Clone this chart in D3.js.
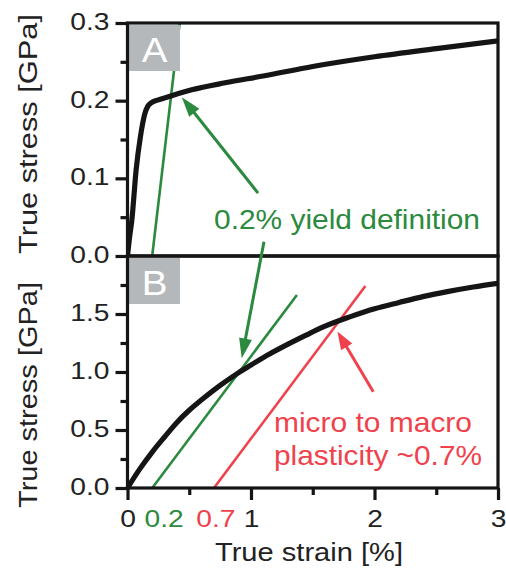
<!DOCTYPE html>
<html>
<head>
<meta charset="utf-8">
<script src="https://cdn.jsdelivr.net/npm/d3@7"></script>
<style>
  body { margin: 0; background: #fff; }
  text { font-family: "Liberation Sans", Arial, Helvetica, sans-serif; }
</style>
</head>
<body>
<svg id="chart" width="506" height="571"></svg>
<script>
// ---- data -------------------------------------------------------------
// Panel A: low-strength material, true stress-strain curve
const strainA = [0, 0.015, 0.035, 0.07, 0.105, 0.14, 0.165, 0.19, 0.25, 0.33, 0.52, 0.79, 1.11, 1.5, 2.0, 2.5, 3.0];
const stressA = [0, 0.022, 0.046, 0.111, 0.154, 0.183, 0.193, 0.197, 0.201, 0.205, 0.214, 0.223, 0.232, 0.244, 0.2565, 0.267, 0.277];

// Panel B: high-strength material, true stress-strain curve
const strainB = [0, 0.1, 0.2, 0.3, 0.4, 0.5, 0.6, 0.75, 0.9, 1.0, 1.15, 1.3, 1.45, 1.6, 1.8, 2.0, 2.2, 2.4, 2.6, 2.8, 3.0];
const stressB = [0, 0.165, 0.31, 0.44, 0.565, 0.67, 0.76, 0.884, 0.995, 1.06, 1.155, 1.24, 1.32, 1.395, 1.475, 1.545, 1.6, 1.652, 1.695, 1.733, 1.765];

// Offset (elastic) lines: start strain [%] and slope [GPa per %]
const yieldOffset = 0.2;      // 0.2 % yield definition
const macroOffset = 0.7;      // micro to macro plasticity
const slopeA = 1.35;
const slopeB = 1.42;

// Axis ticks
const xMajor = [0, 1, 2, 3];
const xMinor = [0.5, 1.5, 2.5];
const yMajorA = [0, 0.1, 0.2, 0.3];
const yMinorA = [0.05, 0.15, 0.25];
const yMajorB = [0, 0.5, 1.0, 1.5];
const yMinorB = [0.25, 0.75, 1.25, 1.75];
const offsetTickLabels = ["0.2", "0.7"];

// Annotation arrows (tail -> tip, in strain / stress units)
const arrowYieldA = { tail: [1.057, 0.081], tip: [0.44, 0.2045] };
const arrowYieldB = { tail: [1.105, 0.0184], tip: [0.925, 1.118] }; // tail in panel A units
const arrowMacro  = { tail: [1.99, 0.83], tip: [1.70, 1.35] };

// ---- layout ------------------------------------------------------------
const GREEN = "#2b8a3e", RED = "#f0424c", INK = "#151515", BOX = "#b5b8bb";
const svg = d3.select("#chart");

const x  = d3.scaleLinear().domain([0, 3]).range([127.5, 498]);
const yA = d3.scaleLinear().domain([0, 0.3]).range([256, 23]);
const yB = d3.scaleLinear().domain([0, 2.0]).range([488, 256]);

// Stretch glyphs horizontally (the figure uses a wide sans face).
// The anchor is resolved by hand so the stretched run stays aligned.
function stretch(sel, k, target) {
  sel.each(function () {
    const w = this.getComputedTextLength();
    const L = target || w * k;
    const anchor = this.getAttribute("text-anchor") || getComputedStyle(this).textAnchor || "start";
    const x0 = +(this.getAttribute("x") || 0);
    const shift = anchor === "middle" ? -L / 2 : anchor === "end" ? -L : 0;
    this.setAttribute("x", x0 + shift);
    this.setAttribute("text-anchor", "start");
    this.setAttribute("textLength", L);
    this.setAttribute("lengthAdjust", "spacingAndGlyphs");
  });
}

const lineGen = (ys) => d3.line()
  .x(d => x(d[0])).y(d => ys(d[1]))
  .curve(d3.curveMonotoneX);

// ---- curves -------------------------------------------------------------
const plot = svg.append("g");

// clip lines to panel interiors
const defs = svg.append("defs");
defs.append("clipPath").attr("id", "clipA").append("rect")
  .attr("x", x(0)).attr("y", yA(0.3)).attr("width", x(3) - x(0)).attr("height", yA(0) - yA(0.3));
defs.append("clipPath").attr("id", "clipB").append("rect")
  .attr("x", x(0)).attr("y", yB(2)).attr("width", x(3) - x(0)).attr("height", yB(0) - yB(2));

const gA = plot.append("g").attr("clip-path", "url(#clipA)");
const gB = plot.append("g").attr("clip-path", "url(#clipB)");

// offset lines
gA.append("line")
  .attr("x1", x(yieldOffset)).attr("y1", yA(0))
  .attr("x2", x(yieldOffset + 0.3 / slopeA)).attr("y2", yA(0.3))
  .attr("stroke", GREEN).attr("stroke-width", 2.6);

const topG = 1.664, topR = 1.741;
gB.append("line")
  .attr("x1", x(yieldOffset)).attr("y1", yB(0))
  .attr("x2", x(yieldOffset + topG / slopeB)).attr("y2", yB(topG))
  .attr("stroke", GREEN).attr("stroke-width", 2.6);
gB.append("line")
  .attr("x1", x(macroOffset)).attr("y1", yB(0))
  .attr("x2", x(macroOffset + topR / slopeB)).attr("y2", yB(topR))
  .attr("stroke", RED).attr("stroke-width", 2.6);

// stress-strain curves
gA.append("path")
  .datum(strainA.map((s, i) => [s, stressA[i]]))
  .attr("d", lineGen(yA))
  .attr("fill", "none").attr("stroke", INK).attr("stroke-width", 5.2)
  .attr("stroke-linejoin", "round");
gB.append("path")
  .datum(strainB.map((s, i) => [s, stressB[i]]))
  .attr("d", lineGen(yB))
  .attr("fill", "none").attr("stroke", INK).attr("stroke-width", 5.2)
  .attr("stroke-linejoin", "round");

// ---- panel letters -----------------------------------------------------
function panelTag(top, letter) {
  svg.append("rect").attr("x", x(0) + 1.5).attr("y", top + 2)
    .attr("width", 51).attr("height", 46).attr("fill", BOX);
  svg.append("text").attr("x", x(0) + 27).attr("y", top + 38.5)
    .attr("text-anchor", "middle").attr("fill", "#fff")
    .attr("font-size", 35).text(letter)
    .call(stretch, 1.1);
}
panelTag(yA(0.3), "A");
panelTag(yB(2.0), "B");

// ---- frames ------------------------------------------------------------
[[yA(0.3), yA(0)], [yB(2.0), yB(0)]].forEach(([t, b]) => {
  svg.append("rect").attr("x", x(0)).attr("y", t)
    .attr("width", x(3) - x(0)).attr("height", b - t)
    .attr("fill", "none").attr("stroke", INK).attr("stroke-width", 3.2);
});

// ---- axes --------------------------------------------------------------
function styleAxis(g) {
  g.select(".domain").remove();
  g.selectAll(".tick line").attr("stroke", INK).attr("stroke-width", 3.2);
  g.selectAll(".tick text").attr("fill", "#222").attr("font-size", 24.5)
    .style("font-family", '"Liberation Sans", Arial, sans-serif');
}

function leftAxis(scale, major, minor) {
  svg.append("g").attr("transform", `translate(${x(0)},0)`)
    .call(d3.axisLeft(scale).tickValues(minor).tickSize(7).tickFormat(""))
    .call(styleAxis);
  const g = svg.append("g").attr("transform", `translate(${x(0)},0)`)
    .call(d3.axisLeft(scale).tickValues(major).tickSize(12).tickPadding(6)
      .tickFormat(d3.format(".1f")))
    .call(styleAxis);
  g.selectAll(".tick text").attr("dy", "0.27em").call(stretch, 1.15);
}
leftAxis(yA, yMajorA, yMinorA);
leftAxis(yB, yMajorB, yMinorB);

svg.append("g").attr("transform", `translate(0,${yB(0)})`)
  .call(d3.axisBottom(x).tickValues(xMinor).tickSize(7).tickFormat(""))
  .call(styleAxis);
const gx = svg.append("g").attr("transform", `translate(0,${yB(0)})`)
  .call(d3.axisBottom(x).tickValues(xMajor).tickSize(12).tickPadding(10)
    .tickFormat(d3.format("d")))
  .call(styleAxis);
gx.selectAll(".tick text").call(stretch, 1.15);

// coloured offset labels under the strain axis
const offsetLabelPos = [x(yieldOffset) + 12, x(macroOffset) + 2];
const offsetLabelCol = [GREEN, RED];
offsetTickLabels.forEach((t, i) => {
  svg.append("text").attr("x", offsetLabelPos[i]).attr("y", yB(0) + 39)
    .attr("text-anchor", "middle").attr("font-size", 24.5)
    .attr("fill", offsetLabelCol[i]).text(t)
    .call(stretch, 1.15);
});

// ---- axis titles ------------------------------------------------------
svg.append("text").attr("transform", `translate(36.5,134) rotate(-90)`)
  .attr("text-anchor", "middle").attr("font-size", 26).attr("fill", "#222")
  .text("True stress [GPa]").call(stretch, 1, 240);
svg.append("text").attr("transform", `translate(36.5,395) rotate(-90)`)
  .attr("text-anchor", "middle").attr("font-size", 26).attr("fill", "#222")
  .text("True stress [GPa]").call(stretch, 1, 226);
svg.append("text").attr("x", 309).attr("y", 561)
  .attr("text-anchor", "middle").attr("font-size", 26).attr("fill", "#222")
  .text("True strain [%]").call(stretch, 1, 188);

// ---- annotations -------------------------------------------------------
function arrow(p0, p1, color, headLen, headHalf) {
  const dx = p1[0] - p0[0], dy = p1[1] - p0[1];
  const L = Math.hypot(dx, dy), ux = dx / L, uy = dy / L;
  const bx = p1[0] - ux * headLen, by = p1[1] - uy * headLen;
  svg.append("line").attr("x1", p0[0]).attr("y1", p0[1])
    .attr("x2", bx + ux * 2).attr("y2", by + uy * 2)
    .attr("stroke", color).attr("stroke-width", 3);
  svg.append("path")
    .attr("d", `M${p1[0]},${p1[1]}L${bx - uy * headHalf},${by + ux * headHalf}L${bx + uy * headHalf},${by - ux * headHalf}Z`)
    .attr("fill", color);
}

arrow([x(arrowYieldA.tail[0]), yA(arrowYieldA.tail[1])],
      [x(arrowYieldA.tip[0]), yA(arrowYieldA.tip[1])], GREEN, 20, 6.5);
arrow([x(arrowYieldB.tail[0]), yA(arrowYieldB.tail[1])],
      [x(arrowYieldB.tip[0]), yB(arrowYieldB.tip[1])], GREEN, 20, 6.5);
arrow([x(arrowMacro.tail[0]), yB(arrowMacro.tail[1])],
      [x(arrowMacro.tip[0]), yB(arrowMacro.tip[1])], RED, 18, 6.5);

svg.append("text").attr("x", 214).attr("y", 228.5)
  .attr("font-size", 28).attr("fill", GREEN)
  .text("0.2% yield definition").call(stretch, 1, 266);
svg.append("text").attr("x", 274).attr("y", 431.5)
  .attr("font-size", 28).attr("fill", RED)
  .text("micro to macro").call(stretch, 1, 198);
svg.append("text").attr("x", 274).attr("y", 465)
  .attr("font-size", 28).attr("fill", RED)
  .text("plasticity ~0.7%").call(stretch, 1, 208);
</script>
</body>
</html>
